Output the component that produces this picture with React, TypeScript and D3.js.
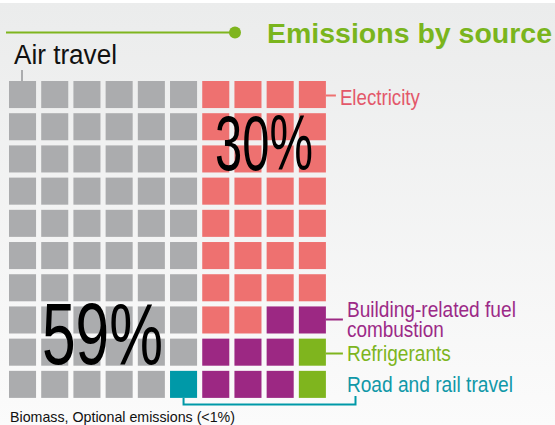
import React from 'react';
import * as d3 from 'd3';

// categories of the waffle, share in percent
const categories = ['air', 'electricity', 'fuel', 'refrigerants', 'road'];
const labels = ['Air travel', 'Electricity', 'Building-related fuel combustion', 'Refrigerants', 'Road and rail travel'];
const shares = [59, 30, 8, 2, 1];
const colors = ['#abacae', '#ee7170', '#9c2883', '#7fb51e', '#0099a8'];
const textColors = ['#111111', '#e3586a', '#9c2a87', '#7db51e', '#1098a8'];

// cell layout, row by row (a = air, e = electricity, f = fuel, g = refrigerants, r = road)
const cellRows = [
    'aaaaaaeeee',
    'aaaaaaeeee',
    'aaaaaaeeee',
    'aaaaaaeeee',
    'aaaaaaeeee',
    'aaaaaaeeee',
    'aaaaaaeeee',
    'aaaaaaeeff',
    'aaaaaafffg',
    'aaaaarfffg',
];
const codes: Record<string, string> = { a: 'air', e: 'electricity', f: 'fuel', g: 'refrigerants', r: 'road' };

const title = 'Emissions by source';
const footnote = 'Biomass, Optional emissions (<1%)';

const width = 555;
const height = 425;

export default function App() {
    const cols = d3.range(10);
    const x = d3.scaleBand<number>().domain(cols).range([9, 325.9]).paddingInner(0.16);
    const y = d3.scaleBand<number>().domain(d3.range(cellRows.length)).range([81, 397.9]).paddingInner(0.16);
    const color = d3.scaleOrdinal<string, string>().domain(categories).range(colors);
    const tcolor = d3.scaleOrdinal<string, string>().domain(categories).range(textColors);

    const cells = cellRows.flatMap((row, r) =>
        row.split('').map((c, i) => ({ row: r, col: i, cat: codes[c] }))
    );

    const bw = x.bandwidth();
    const right = x(9)! + bw;
    const labelX = right + 21;
    const font = '"Liberation Sans", Arial, sans-serif';
    const narrow = '"Liberation Sans Narrow", "Liberation Sans", Arial, sans-serif';

    return (
        <div style={{ position: 'absolute', left: 0, top: 0 }}>
            <svg width={width} height={height} style={{ display: 'block' }}>
                <defs>
                    <linearGradient id="bg" x1="0" y1="0" x2="0" y2="1">
                        <stop offset="0" stopColor="#ebecec" />
                        <stop offset="1" stopColor="#fbfbfb" />
                    </linearGradient>
                </defs>
                <rect x={0} y={0} width={width} height={height} fill="#ffffff" />
                <rect x={0} y={3} width={width} height={height - 3} fill="url(#bg)" />

                {/* title */}
                <line x1={6} x2={233} y1={32.5} y2={32.5} stroke={colors[3]} strokeWidth={2.2} />
                <circle cx={235} cy={32.5} r={6} fill={colors[3]} />
                <text x={267} y={43} fontFamily={font} fontWeight="bold" fontSize={28.5}
                    fill="#7ab51d" textLength={285} lengthAdjust="spacingAndGlyphs">{title}</text>

                {/* cells */}
                {cells.map((d, i) => (
                    <rect key={i} x={x(d.col)} y={y(d.row)} width={bw} height={y.bandwidth()} fill={color(d.cat)} />
                ))}

                {/* big percentages */}
                <text x={215} y={170} fontFamily={narrow} fontSize={77} fill="#000"
                    textLength={98} lengthAdjust="spacingAndGlyphs">{shares[1]}%</text>
                <text x={42} y={364} fontFamily={narrow} fontSize={87} fill="#000"
                    textLength={121} lengthAdjust="spacingAndGlyphs">{shares[0]}%</text>

                {/* Air travel label */}
                <line x1={22} x2={22} y1={70} y2={y(0)!} stroke="#abacae" strokeWidth={2} />
                <text x={14} y={64} fontFamily={font} fontSize={27} fill={tcolor('air')}
                    textLength={103} lengthAdjust="spacingAndGlyphs">{labels[0]}</text>

                {/* Electricity */}
                <line x1={right} x2={right + 10} y1={95.5} y2={95.5} stroke={colors[1]} strokeWidth={2} />
                <text x={labelX - 7} y={105} fontFamily={narrow} fontSize={22} fill={tcolor('electricity')}
                    textLength={80} lengthAdjust="spacingAndGlyphs">{labels[1]}</text>

                {/* Building-related fuel combustion */}
                <line x1={right} x2={right + 17} y1={319.5} y2={319.5} stroke={colors[2]} strokeWidth={2} />
                <text x={labelX} y={317} fontFamily={narrow} fontSize={21.5} fill={tcolor('fuel')}
                    textLength={169} lengthAdjust="spacingAndGlyphs">Building-related fuel</text>
                <text x={labelX} y={337} fontFamily={narrow} fontSize={21.5} fill={tcolor('fuel')}
                    textLength={97} lengthAdjust="spacingAndGlyphs">combustion</text>

                {/* Refrigerants */}
                <line x1={right} x2={right + 17} y1={353.5} y2={353.5} stroke={colors[3]} strokeWidth={2} />
                <text x={labelX} y={361} fontFamily={narrow} fontSize={21.5} fill={tcolor('refrigerants')}
                    textLength={104} lengthAdjust="spacingAndGlyphs">{labels[3]}</text>

                {/* Road and rail travel */}
                <text x={labelX} y={392} fontFamily={narrow} fontSize={21.5} fill={tcolor('road')}
                    textLength={166} lengthAdjust="spacingAndGlyphs">{labels[4]}</text>
                <path
                    d={`M${x(5)! + bw / 2},${y(9)! + y.bandwidth()} V404.5 H355.5 V396`}
                    fill="none" stroke={colors[4]} strokeWidth={2} />

                {/* footnote */}
                <text x={10} y={422} fontFamily={font} fontSize={15} fill="#111"
                    textLength={225} lengthAdjust="spacingAndGlyphs">{footnote}</text>
            </svg>
        </div>
    );
}
